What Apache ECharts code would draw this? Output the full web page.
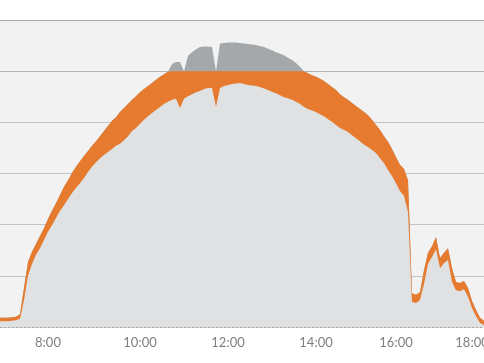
<!DOCTYPE html>
<html>
<head>
<meta charset="utf-8">
<script src="https://cdn.jsdelivr.net/npm/echarts@6/dist/echarts.min.js"></script>
<style>
  html, body { margin: 0; padding: 0; background: #ffffff; overflow: hidden; }
  #chart { width: 484px; height: 363px; }
</style>
</head>
<body>
<div id="chart"></div>
<script>
// Tick labels and the sample index where each one sits
const hourLabels = ['8:00', '10:00', '12:00', '14:00', '16:00', '18:00'];
const hourIndex  = [12, 35, 57, 79, 99, 118];

// Potential output (dark grey, visible where above the limit)
const potential = [
  0.18,0.18,0.18,0.19,0.20,0.25,0.76,1.27,1.47,1.62,1.78,1.93,2.11,2.27,2.42,2.58,
  2.74,2.87,3.01,3.13,3.24,3.34,3.44,3.54,3.63,3.73,3.83,3.93,4.03,4.10,4.20,4.28,
  4.36,4.44,4.51,4.59,4.65,4.71,4.77,4.83,4.89,4.94,4.99,5.14,5.18,5.18,5.00,5.30,
  5.37,5.43,5.47,5.48,5.48,5.47,5.00,5.54,5.55,5.56,5.56,5.56,5.55,5.54,5.53,5.52,
  5.51,5.49,5.47,5.44,5.41,5.37,5.34,5.31,5.26,5.22,5.16,5.08,5.00,4.96,4.92,4.89,
  4.85,4.81,4.75,4.69,4.63,4.55,4.49,4.44,4.38,4.32,4.26,4.20,4.14,4.05,3.95,3.85,
  3.73,3.62,3.48,3.32,3.17,3.09,2.87,0.66,0.63,0.68,1.11,1.45,1.58,1.76,1.35,1.45,
  1.54,1.15,0.88,0.86,0.90,0.76,0.51,0.33,0.18,0.12
];

// Limited output (orange top edge)
const limited = [
  0.18,0.18,0.18,0.19,0.20,0.25,0.76,1.27,1.47,1.62,1.78,1.93,2.11,2.27,2.42,2.58,
  2.74,2.87,3.01,3.13,3.24,3.34,3.44,3.54,3.63,3.73,3.83,3.93,4.03,4.10,4.20,4.28,
  4.36,4.44,4.51,4.59,4.65,4.71,4.77,4.83,4.89,4.94,4.99,5.00,5.00,5.00,5.00,5.00,
  5.00,5.00,5.00,5.00,5.00,5.00,5.00,5.00,5.00,5.00,5.00,5.00,5.00,5.00,5.00,5.00,
  5.00,5.00,5.00,5.00,5.00,5.00,5.00,5.00,5.00,5.00,5.00,5.00,5.00,4.96,4.92,4.89,
  4.85,4.81,4.75,4.69,4.63,4.55,4.49,4.44,4.38,4.32,4.26,4.20,4.14,4.05,3.95,3.85,
  3.73,3.62,3.48,3.32,3.17,3.09,2.87,0.66,0.63,0.68,1.11,1.45,1.58,1.76,1.35,1.45,
  1.54,1.15,0.88,0.86,0.90,0.76,0.51,0.33,0.18,0.12
];

// Actual output (light grey)
const actual = [
  0.11,0.11,0.11,0.12,0.13,0.16,0.53,1.00,1.23,1.41,1.54,1.70,1.86,1.99,2.13,2.27,
  2.38,2.50,2.62,2.72,2.81,2.91,3.03,3.13,3.22,3.30,3.36,3.42,3.48,3.54,3.58,3.65,
  3.73,3.83,3.89,3.97,4.05,4.12,4.18,4.24,4.30,4.36,4.40,4.44,4.46,4.28,4.46,4.51,
  4.55,4.59,4.61,4.65,4.67,4.67,4.30,4.67,4.71,4.73,4.75,4.76,4.77,4.75,4.73,4.72,
  4.71,4.69,4.66,4.63,4.60,4.57,4.53,4.49,4.47,4.44,4.40,4.36,4.30,4.26,4.23,4.20,
  4.16,4.12,4.06,4.01,3.95,3.89,3.85,3.81,3.75,3.69,3.63,3.56,3.52,3.46,3.40,3.30,
  3.20,3.07,2.95,2.81,2.66,2.56,2.25,0.49,0.47,0.53,0.84,1.23,1.37,1.52,1.15,1.25,
  1.31,0.88,0.72,0.70,0.74,0.59,0.37,0.21,0.08,0.04
];

// Category (time) for each sample, placed between the hour marks
function toMinutes(s) { const p = s.split(':'); return (+p[0]) * 60 + (+p[1]); }
function fmt(m) { m = Math.round(m); return Math.floor(m / 60) + ':' + String(m % 60).padStart(2, '0'); }
const categories = potential.map((_, i) => {
  let k = 0;
  while (k < hourIndex.length - 2 && i > hourIndex[k + 1]) k++;
  const i0 = hourIndex[k], i1 = hourIndex[k + 1];
  const m0 = toMinutes(hourLabels[k]), m1 = toMinutes(hourLabels[k + 1]);
  return fmt(m0 + (i - i0) * (m1 - m0) / (i1 - i0));
});

const chart = echarts.init(document.getElementById('chart'), null, { renderer: 'canvas' });

function area(name, data, color) {
  return {
    name: name, type: 'line', data: data,
    showSymbol: false, symbol: 'none', smooth: false,
    lineStyle: { width: 0 },
    areaStyle: { color: color, opacity: 1 },
    itemStyle: { color: color },
    animation: false
  };
}

chart.setOption({
  animation: false,
  backgroundColor: '#ffffff',
  grid: {
    left: 0, right: 0, top: 20, bottom: 36,
    outerBoundsMode: 'none', containLabel: false,
    show: true, backgroundColor: '#f2f2f2', borderWidth: 0
  },
  xAxis: {
    type: 'category', data: categories, boundaryGap: false, z: 5,
    axisLine: { show: true, lineStyle: { color: '#a6a6a6', type: [2, 2], width: 1 } },
    axisTick: { show: false },
    axisLabel: {
      interval: (idx) => hourIndex.indexOf(idx) >= 0,
      formatter: (v, idx) => { const k = hourIndex.indexOf(idx); return k >= 0 ? hourLabels[k] : ''; },
      color: '#7f7f7f', fontFamily: 'Lato', fontSize: 13, margin: 9,
      hideOverlap: false
    },
    splitLine: { show: false }
  },
  yAxis: {
    type: 'value', min: 0, max: 6, interval: 1,
    axisLine: { show: false }, axisTick: { show: false }, axisLabel: { show: false },
    splitLine: { show: true, lineStyle: { color: ['#f2f2f2', '#c4c4c4', '#c4c4c4', '#c4c4c4', '#c4c4c4', '#b4b4b4', '#a8a8a8'], width: 1 } }
  },
  series: [
    area('Potential', potential, '#a5a8ab'),
    area('Limited', limited, '#e67a2e'),
    area('Actual', actual, '#e0e1e3')
  ]
});
</script>
</body>
</html>
